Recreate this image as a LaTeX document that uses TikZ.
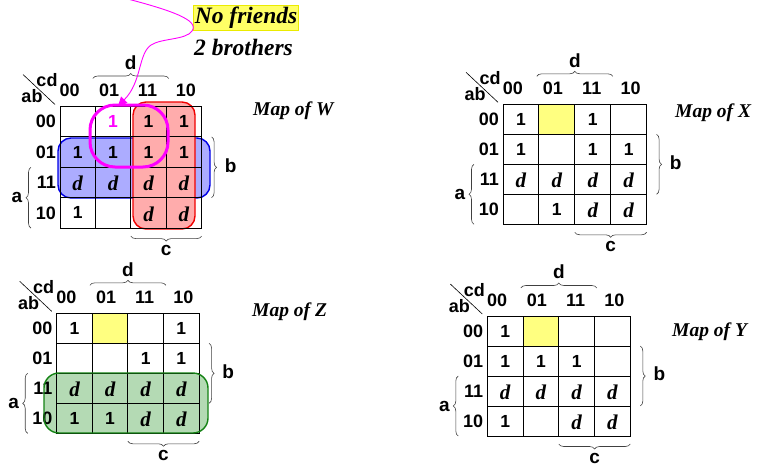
\documentclass[tikz,border=0pt]{standalone}
\usepackage{fontspec}
\setmainfont{Liberation Serif}
\newfontfamily\arialf{Liberation Sans}
\usetikzlibrary{decorations.pathreplacing,arrows.meta}
\definecolor{yel}{RGB}{255,255,128}
\definecolor{yelbox}{RGB}{255,255,102}
\definecolor{yelline}{RGB}{235,235,0}
\definecolor{bluefill}{RGB}{172,172,255}
\definecolor{blueline}{RGB}{0,0,230}
\definecolor{redfill}{RGB}{255,172,172}
\definecolor{redline}{RGB}{240,0,0}
\definecolor{greenfill}{RGB}{180,218,180}
\definecolor{greenline}{RGB}{20,130,20}
\definecolor{mag}{RGB}{255,0,255}
\tikzset{
  gridline/.style={line width=0.9pt},
  hdr/.style={font=\arialf\bfseries\fontsize{18}{18}\selectfont, inner sep=0pt},
  lett/.style={font=\arialf\bfseries\fontsize{19}{19}\selectfont, inner sep=0pt},
  one/.style={font=\arialf\bfseries\fontsize{17.5}{17.5}\selectfont, inner sep=0pt},
  dc/.style={font=\bfseries\itshape\fontsize{21}{21}\selectfont, inner sep=0pt},
  title/.style={font=\bfseries\itshape\fontsize{19.5}{19.5}\selectfont, inner sep=0pt, anchor=west},
  brc/.style={decorate, decoration={brace, amplitude=5pt}, line width=0.6pt, black!75},
  grp/.style={line width=1.4pt, rounded corners=13pt},
}
\newcommand{\KGrid}[1]{%
  \draw[gridline] (0,0) rectangle (4*\cw,4*\ch);
  \foreach \i in {1,2,3} {
    \draw[gridline] (\i*\cw,0) -- (\i*\cw,4*\ch);
    \draw[gridline] (0,\i*\ch) -- (4*\cw,\i*\ch);
  }
  \foreach \t/\o [count=\k from 0] in {00/-8,01/-4,11/-1,10/2} {
    \node[hdr] (#1-col\k) at ({(\k+0.5)*\cw+\o},-16) {\t};
  }
  \foreach \t [count=\k from 0] in {00,01,11,10} {
    \node[hdr, anchor=east] (#1-row\k) at (-4,{(\k+0.5)*\ch}) {\t};
  }
  \node[hdr] (#1-cd) at (-13,-26) {cd};
  \node[hdr] (#1-ab) at (-28,-10) {ab};
  \draw[line width=0.6pt] (-37,-32) -- (-5,-2);
  \draw[brc] (2*\cw-38,-28) -- (2*\cw+38,-28);
  \node[lett] (#1-d) at (2*\cw,-44) {d};
  \draw[brc] (4*\cw+10,\ch) -- (4*\cw+10,3*\ch);
  \node[lett] (#1-b) at (4*\cw+29,2*\ch-2) {b};
  \draw[brc] (-29,4*\ch) -- (-29,2*\ch);
  \node[lett] (#1-a) at (-43,3*\ch) {a};
  \draw[brc] (4*\cw,4*\ch+8) -- (2*\cw,4*\ch+8);
  \node[lett] (#1-c) at (3*\cw,4*\ch+22) {c};
}
\newcommand{\KOnes}[2]{%
  \foreach \r/\c in {#2} \node[one] (#1-\r\c) at ({(\c+0.5)*\cw},{(\r+0.5)*\ch}) {1};
}
\newcommand{\KDs}[2]{%
  \foreach \r/\c in {#2} \node[dc] (#1-\r\c) at ({(\c+0.5)*\cw},{(\r+0.5)*\ch+1}) {d};
}
\begin{document}
\begin{tikzpicture}[x=1pt,y=-1pt]
\useasboundingbox (0,0) rectangle (768,467);

% ---------------- Map of W ----------------
\fill[bluefill] [rounded corners=13pt] (58,138) rectangle (210,198);
\draw[blueline, grp] (58,138) rectangle (210,198);
\fill[redfill] [rounded corners=13pt] (133,102) rectangle (195,229);
\draw[redline, grp] (133,102) rectangle (195,229);
\begin{scope}[shift={(60,106.5)}]
  \def\cw{35.4}\def\ch{30.4}
  \KGrid{W}
  \node[one, text=mag] (W-01) at ({1.5*\cw},{0.5*\ch}) {1};
  \KOnes{W}{0/2,0/3,1/0,1/1,1/2,1/3,3/0}
  \KDs{W}{2/0,2/1,2/2,2/3,3/2,3/3}
\end{scope}
\node[title] (tW) at (253,111) {Map of W};
\draw[mag, line width=3pt, rounded corners=25pt] (90,105) rectangle (168,167);

\node[anchor=north west, fill=yelbox, draw=yelline, line width=0.8pt, inner sep=1.5pt,
      font=\bfseries\itshape\fontsize{23.5}{23.5}\selectfont] (nf) at (193,5) {No friends};
\node[anchor=west, inner sep=0pt, font=\bfseries\itshape\fontsize{23.5}{23.5}\selectfont]
      (nb) at (194,47) {2 brothers};
\coordinate (m0) at (124,-2);
\coordinate (m1) at (118,106);
\draw[mag, line width=0.9pt, -{Triangle[length=9pt,width=9pt]}]
  (m0) .. controls (170,10) and (200,20) .. (192,31)
       .. controls (186,40) and (162,38) .. (151,45)
       .. controls (138,54) and (142,82) .. (m1);

% ---------------- Map of X ----------------
\begin{scope}[shift={(503,104.3)}]
  \def\cw{35.9}\def\ch{30}
  \fill[yel] (\cw,0) rectangle (2*\cw,\ch);
  \KGrid{X}
  \KOnes{X}{0/0,0/2,1/0,1/2,1/3,3/1}
  \KDs{X}{2/0,2/1,2/2,2/3,3/2,3/3}
\end{scope}
\node[title] (tX) at (675,113) {Map of X};

% ---------------- Map of Z ----------------
\fill[greenfill] [rounded corners=15pt] (44,373) rectangle (208,433);
\begin{scope}[shift={(56.7,313.3)}]
  \def\cw{35.6}\def\ch{30}
  \fill[yel] (\cw,0) rectangle (2*\cw,\ch);
  \KGrid{Z}
  \KOnes{Z}{0/0,0/3,1/2,1/3,3/0,3/1}
  \KDs{Z}{2/0,2/1,2/2,2/3,3/2,3/3}
\end{scope}
\draw[greenline, grp, rounded corners=15pt] (44,373) rectangle (208,433);
\node[title] (tZ) at (252,312) {Map of Z};

% ---------------- Map of Y ----------------
\begin{scope}[shift={(487.3,316)}]
  \def\cw{35.75}\def\ch{30}
  \fill[yel] (\cw,0) rectangle (2*\cw,\ch);
  \KGrid{Y}
  \KOnes{Y}{0/0,1/0,1/1,1/2,3/0}
  \KDs{Y}{2/0,2/1,2/2,2/3,3/2,3/3}
\end{scope}
\node[title] (tY) at (672,332) {Map of Y};
\end{tikzpicture}
\end{document}
